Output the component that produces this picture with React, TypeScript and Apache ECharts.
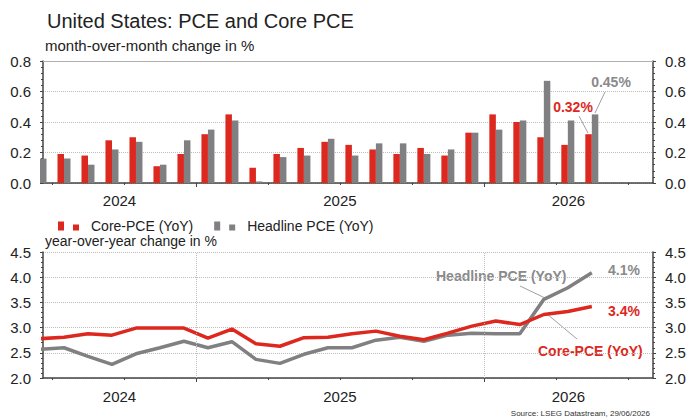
import React, { useEffect, useRef } from "react";
import * as echarts from "echarts";

// ---- data ----
const months = [
  "2024-06", "2024-07", "2024-08", "2024-09", "2024-10", "2024-11", "2024-12",
  "2025-01", "2025-02", "2025-03", "2025-04", "2025-05", "2025-06", "2025-07",
  "2025-08", "2025-09", "2025-10", "2025-11", "2025-12",
  "2026-01", "2026-02", "2026-03", "2026-04", "2026-05",
];
const coreMoM = [
  null, 0.19, 0.18, 0.28, 0.30, 0.11, 0.19,
  0.32, 0.45, 0.10, 0.19, 0.23, 0.27, 0.25,
  0.22, 0.19, 0.23, 0.18, 0.33,
  0.45, 0.40, 0.30, 0.25, 0.32,
];
const headlineMoM = [
  0.16, 0.16, 0.12, 0.22, 0.27, 0.12, 0.28,
  0.35, 0.41, 0.01, 0.17, 0.18, 0.29, 0.18,
  0.26, 0.26, 0.19, 0.22, 0.33,
  0.35, 0.41, 0.67, 0.41, 0.45,
];
const coreYoY = [
  2.78, 2.81, 2.88, 2.85, 2.99, 2.99, 2.99,
  2.79, 2.97, 2.68, 2.63, 2.80, 2.81, 2.88,
  2.93, 2.83, 2.76, 2.89, 3.03,
  3.13, 3.06, 3.26, 3.32, 3.42,
];
const headlineYoY = [
  2.57, 2.60, 2.43, 2.27, 2.48, 2.60, 2.73,
  2.60, 2.72, 2.37, 2.29, 2.47, 2.60, 2.60,
  2.75, 2.81, 2.73, 2.85, 2.89,
  2.88, 2.88, 3.56, 3.79, 4.09,
];
const years = [2024, 2025, 2026];
const quarterTickMonths = ["2024-07", "2024-10", "2025-04", "2025-07", "2025-10", "2026-04", "2026-07"];
const yearStartMonths = ["2025-01", "2026-01"];
const X_MIN = -6.375; // mid-June 2024, months from Jan 2025
const X_MAX = 19.05; // end of July 2026

const RED = "#dc281e";
const GRAY = "#808083";
const GRAY_TXT = "#8a8a8a";
const TEXT = "#222222";
const FONT = '"Liberation Sans", Arial, sans-serif';

const monthOffset = (s: string) => {
  const [y, m] = s.split("-").map(Number);
  return (y - 2025) * 12 + (m - 1);
};
const xPos = months.map((m) => monthOffset(m) + 0.5);
const quarterTicks = quarterTickMonths.map(monthOffset);
const yearTicks = yearStartMonths.map(monthOffset);
const yearLabelPos = years.map((y) => {
  const s = Math.max(X_MIN, (y - 2025) * 12);
  const e = Math.min(X_MAX, (y - 2024) * 12);
  return (s + e) / 2;
});
const yearFormatter = (v: number) => {
  let best = 0;
  yearLabelPos.forEach((p, i) => {
    if (Math.abs(p - v) < Math.abs(yearLabelPos[best] - v)) best = i;
  });
  return String(years[best]);
};

const axisLineStyle = { color: "#444", width: 1.5 };
const tickStyle = { color: "#444", width: 1 };
const gridLine = { color: "#bdbdbd", type: "dotted" as const, width: 1 };

function yAx(gridIndex: number, position: string, min: number, max: number, interval: number, split: boolean) {
  return {
    type: "value",
    gridIndex,
    position,
    min,
    max,
    interval,
    axisLine: { show: true, onZero: false, lineStyle: axisLineStyle },
    axisTick: { show: true, inside: false, length: 3, lineStyle: tickStyle },
    minorTick: { show: true, splitNumber: 5, length: 2, lineStyle: tickStyle },
    axisLabel: { fontSize: 15, color: TEXT, margin: 12, fontFamily: FONT, formatter: (v: number) => v.toFixed(1) },
    splitLine: { show: split, lineStyle: gridLine },
  };
}

function xMain(gridIndex: number, margin: number) {
  return {
    type: "value",
    gridIndex,
    position: "bottom",
    min: X_MIN,
    max: X_MAX,
    axisLine: { show: true, onZero: false, lineStyle: axisLineStyle },
    axisTick: { show: true, customValues: quarterTicks, length: 2, lineStyle: tickStyle },
    axisLabel: { show: true, customValues: yearLabelPos, formatter: yearFormatter, fontSize: 15, color: TEXT, margin, fontFamily: FONT },
    splitLine: { show: false },
  };
}
function xYear(gridIndex: number) {
  return {
    type: "value",
    gridIndex,
    position: "bottom",
    min: X_MIN,
    max: X_MAX,
    axisLine: { show: false, onZero: false },
    axisTick: { show: true, customValues: yearTicks, length: 4, lineStyle: tickStyle },
    axisLabel: { show: false },
    splitLine: { show: false },
  };
}

export default function App() {
  const ref = useRef<HTMLDivElement>(null);
  useEffect(() => {
    document.body.style.margin = "0";
    if (!ref.current) return;
    const chart = echarts.init(ref.current, null, { renderer: "svg" });
    const lastCore = coreMoM[coreMoM.length - 1] as number;
    const lastHead = headlineMoM[headlineMoM.length - 1];
    const lastCoreY = coreYoY[coreYoY.length - 1];
    const lastHeadY = headlineYoY[headlineYoY.length - 1];
    const txt = (text: string, x: number, y: number, color: string, size: number, weight: string, align = "left") => ({
      type: "text",
      x,
      y,
      silent: true,
      style: { text, fill: color, fontSize: size, fontWeight: weight, fontFamily: FONT, textAlign: align, textVerticalAlign: "middle" },
    });
    const ln = (x1: number, y1: number, x2: number, y2: number) => ({
      type: "line",
      silent: true,
      shape: { x1, y1, x2, y2 },
      style: { stroke: "#a0a0a0", lineWidth: 1 },
    });
    chart.setOption({
      animation: false,
      backgroundColor: "#ffffff",
      textStyle: { fontFamily: FONT },
      grid: [
        { left: 43, right: 36, top: 61, height: 122 },
        { left: 43, right: 36, top: 252, height: 126 },
      ],
      legend: {
        left: 53,
        top: 214,
        itemGap: 21,
        itemWidth: 28,
        itemHeight: 9,
        textStyle: { fontSize: 14, color: TEXT, fontFamily: FONT },
        data: [
          { name: "Core-PCE (YoY)", icon: "path://M0,0h6v9h-6zM15,3h6v6h-6zM28,9h0.01" },
          { name: "Headline PCE (YoY)", icon: "path://M0,0h6v9h-6zM15,3h6v6h-6zM28,9h0.01" },
        ],
      },
      xAxis: [
        xMain(0, 10),
        xYear(0),
        {
          type: "value",
          gridIndex: 0,
          position: "top",
          min: X_MIN,
          max: X_MAX,
          axisLine: { show: true, onZero: false, lineStyle: { color: "#b0b0b0", width: 1 } },
          axisTick: { show: false },
          axisLabel: { show: false },
          splitLine: { show: false },
        },
        xMain(1, 11),
        xYear(1),
      ],
      yAxis: [
        yAx(0, "left", 0, 0.8, 0.2, true),
        yAx(0, "right", 0, 0.8, 0.2, false),
        yAx(1, "left", 2, 4.5, 0.5, true),
        yAx(1, "right", 2, 4.5, 0.5, false),
      ],
      series: [
        {
          name: "Core-PCE (YoY)",
          type: "bar",
          xAxisIndex: 0,
          yAxisIndex: 0,
          barWidth: 6.5,
          barGap: "0%",
          itemStyle: { color: RED },
          data: coreMoM.map((v, i) => [xPos[i], v]),
        },
        {
          name: "Headline PCE (YoY)",
          type: "bar",
          xAxisIndex: 0,
          yAxisIndex: 0,
          barWidth: 6.5,
          barGap: "0%",
          itemStyle: { color: GRAY },
          data: headlineMoM.map((v, i) => [xPos[i], v]),
        },
        {
          name: "year grid",
          type: "line",
          xAxisIndex: 3,
          yAxisIndex: 2,
          z: 1,
          data: [],
          markLine: {
            silent: true,
            symbol: "none",
            label: { show: false },
            lineStyle: { color: "#bdbdbd", type: "dotted", width: 1 },
            data: yearTicks.map((t) => ({ xAxis: t })),
          },
        },
        {
          name: "Headline YoY",
          type: "line",
          xAxisIndex: 3,
          yAxisIndex: 2,
          z: 3,
          showSymbol: false,
          symbol: "none",
          lineStyle: { color: GRAY, width: 3.5 },
          itemStyle: { color: GRAY },
          data: headlineYoY.map((v, i) => [xPos[i], v]),
        },
        {
          name: "Core YoY",
          type: "line",
          xAxisIndex: 3,
          yAxisIndex: 2,
          z: 4,
          showSymbol: false,
          symbol: "none",
          lineStyle: { color: RED, width: 3.5 },
          itemStyle: { color: RED },
          data: coreYoY.map((v, i) => [xPos[i], v]),
        },
      ],
      graphic: [
        txt("United States: PCE and Core PCE", 47, 21, TEXT, 20, "normal"),
        txt("month-over-month change in %", 45, 45, TEXT, 15, "normal"),
        txt("year-over-year change in %", 45, 241, TEXT, 14, "normal"),
        txt(`${lastCore.toFixed(2)}%`, 573, 107, RED, 14, "bold", "center"),
        txt(`${lastHead.toFixed(2)}%`, 611, 82, GRAY_TXT, 14, "bold", "center"),
        ln(579, 116, 588, 133),
        ln(605, 92, 595, 113),
        txt("Headline PCE (YoY)", 436, 276, GRAY_TXT, 14, "bold"),
        txt("Core-PCE (YoY)", 538, 351, RED, 14, "bold"),
        txt(`${lastHeadY.toFixed(1)}%`, 608, 270, GRAY_TXT, 14, "bold"),
        txt(`${lastCoreY.toFixed(1)}%`, 608, 311, RED, 14, "bold"),
        ln(520, 286, 545, 298),
        ln(547, 314, 577, 339),
        txt("Source: LSEG Datastream, 29/06/2026", 650, 413, "#333", 8, "normal", "right"),
      ],
    });
    return () => chart.dispose();
  }, []);
  return <div ref={ref} style={{ width: 689, height: 417 }} />;
}
